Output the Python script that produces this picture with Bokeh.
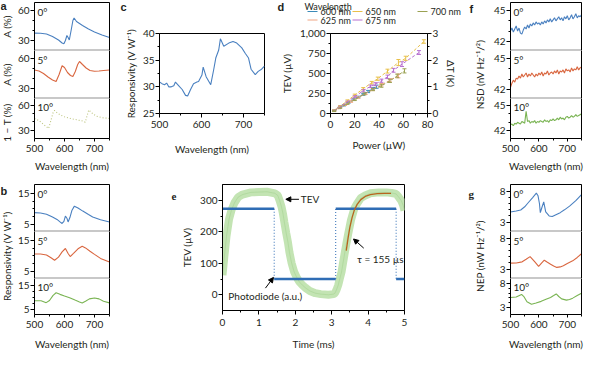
import math
from bokeh.plotting import figure
from bokeh.models import (Range1d, LinearAxis, FixedTicker, Label, Arrow, NormalHead,
                          Whisker, TeeHead, ColumnDataSource, NumeralTickFormatter)
from bokeh.layouts import row, column
from bokeh.embed import file_html
from bokeh.resources import INLINE

FONT = "Lato"
TC = "#231f20"
BLUE = "#4a80c0"
RED = "#d9663f"
GREEN = "#7ab453"
PALE = "#bcc47e"
SEP = "#c8c8c8"

# ---------------- data ----------------
# panel a : absorption (%)
a0_wl = [500, 520, 540, 560, 580, 592, 598, 603, 608, 612, 616, 622, 628, 632, 640, 660, 680, 700, 725, 750]
a0_v = [37.4, 37.2, 36.5, 34, 30.5, 27.5, 26.8, 30, 35, 33, 30.5, 40, 50, 52.5, 49, 45, 41.5, 38.5, 35.5, 33]
a5_wl = [500, 515, 530, 545, 560, 572, 582, 592, 600, 610, 620, 628, 636, 644, 650, 660, 672, 685, 700, 715, 730, 750]
a5_v = [48.5, 47.5, 45, 41.5, 38.5, 37, 44, 52.8, 51, 46, 43, 42, 47, 54, 57, 54, 50.5, 48, 47.2, 47.5, 48, 48.5]
a10_wl = [500, 515, 530, 547, 555, 562, 567, 575, 585, 600, 620, 640, 660, 669, 675, 681, 690, 706, 725, 750]
a10_v = [44, 41.5, 37, 32, 42, 51, 53.7, 51, 48.5, 46, 44, 42.5, 41, 39.5, 47, 54.3, 51, 46.8, 45, 44]

# panel b : responsivity (V/W)
b0_wl = [500, 520, 540, 560, 575, 585, 592, 598, 603, 608, 612, 618, 625, 633, 645, 661, 680, 694, 720, 750]
b0_v = [8.8, 8.7, 8.3, 7.4, 6.6, 5.8, 5.3, 6.0, 7.7, 7.0, 5.8, 7.2, 9.6, 10.9, 10.3, 9.3, 8.2, 7.4, 6.5, 5.75]
b5_wl = [500, 520, 540, 555, 567, 580, 592, 603, 612, 619, 630, 645, 659, 670, 685, 700, 720, 750]
b5_v = [10.6, 10.6, 10.3, 9.4, 8.6, 9.6, 11.3, 12.4, 10.8, 9.8, 10.8, 12.3, 13.1, 12.6, 11.5, 10.5, 9.2, 8.0]
b10_wl = [500, 522, 539, 550, 562, 572, 585, 600, 617, 635, 650, 659, 670, 683, 700, 715, 730, 750]
b10_v = [8.5, 8.5, 7.7, 8.6, 10.8, 11.9, 11.2, 10.5, 9.8, 8.8, 8.0, 7.6, 8.3, 9.3, 9.7, 9.3, 8.3, 7.6]

# panel c : responsivity spectrum
c_wl = [500, 506, 512, 517, 522, 528, 534, 538, 546, 554, 562, 567, 574, 581, 589, 593, 601, 604, 611,
        622, 629, 634, 641, 645, 653, 665, 675, 684, 696, 704, 712, 718, 728, 735, 743, 750]
c_v = [30.9, 30.6, 30.4, 30.7, 30.0, 30.0, 30.2, 30.9, 30.2, 29.5, 28.4, 28.3, 29.5, 30.6, 30.9, 31.0, 32.2,
       33.7, 31.9, 30.4, 33.2, 35.4, 36.9, 39.0, 37.6, 38.2, 38.5, 38.2, 37.3, 36.3, 35.4, 33.3, 32.3, 32.9,
       33.3, 33.9]

# panel d : TEV vs power
d_names = ["600 nm", "625 nm", "650 nm", "675 nm", "700 nm"]
d_colors = ["#3b8ab8", "#f0a584", "#e8c04a", "#b76fcf", "#9aa152"]
d600_P = [3, 7, 11, 15, 19, 23, 27, 31, 35, 38]
d600_V = [38, 70, 102, 138, 172, 206, 240, 275, 310, 335]
d600_E = [6, 6, 8, 8, 10, 10, 12, 14, 16, 20]
d625_P = [3, 7, 12, 17, 23, 29, 35, 42, 49, 56]
d625_V = [34, 66, 108, 150, 200, 250, 300, 360, 415, 470]
d625_E = [6, 6, 8, 10, 10, 12, 14, 16, 20, 24]
d650_P = [3, 8, 14, 20, 27, 34, 39, 47, 56, 62, 77]
d650_V = [40, 92, 160, 230, 310, 385, 435, 530, 637, 690, 900]
d650_E = [6, 8, 10, 12, 14, 16, 20, 24, 38, 26, 22]
d675_P = [3, 8, 14, 20, 27, 33, 37, 42, 47, 52, 59, 73]
d675_V = [35, 84, 146, 210, 285, 340, 367, 410, 458, 540, 617, 762]
d675_E = [6, 8, 10, 12, 14, 16, 18, 20, 22, 24, 30, 24]
d700_P = [3, 8, 14, 20, 28, 35, 42, 49, 55, 61]
d700_V = [30, 72, 122, 172, 245, 300, 346, 408, 470, 533]
d700_E = [6, 8, 8, 10, 12, 14, 18, 20, 22, 26]
legend_title = "Wavelength"

# panel e : time response
e_t = [0.00, 0.05, 0.11, 0.18, 0.25, 0.33, 0.43, 0.55, 0.78, 1.00,
       1.22, 1.44, 1.52, 1.57, 1.62, 1.66, 1.70, 1.75, 1.80, 1.84,
       1.90, 1.97, 2.04, 2.11, 2.20, 2.29, 2.40, 2.55, 2.70, 2.91,
       3.05, 3.09, 3.13, 3.18, 3.22, 3.27, 3.31, 3.36, 3.40, 3.45,
       3.53, 3.62, 3.70, 3.80, 3.92, 4.06, 4.30, 4.50, 4.65, 4.77,
       4.84, 4.91, 4.96, 5.00]
e_tev = [62, 120, 186, 240, 270, 292, 310, 318, 325, 326,
         327, 322, 315, 299, 280, 258, 230, 196, 165, 134,
         100, 72, 55, 41, 30, 21, 12, 5, 2, 0,
         2, 5, 15, 31, 50, 72, 100, 134, 160, 191,
         237, 273, 290, 307, 315, 322, 325, 325, 323, 320,
         310, 299, 285, 268]
pd_edges = [0.0, 1.42, 3.11, 4.77, 5.0]
pd_levels = [273, 50, 273, 50]
fit_t = [3.40, 3.45, 3.50, 3.56, 3.62, 3.70, 3.80, 3.92, 4.06, 4.25, 4.45, 4.63]
fit_v = [140, 180, 215, 245, 268, 287, 302, 312, 318, 321, 322, 322]

# panel f : noise spectral density
f_wl = list(range(500, 755, 5))
f0_v = [43.0, 43.3, 42.9, 43.2, 43.5, 43.0, 43.3, 42.8, 42.7, 43.1,
        43.4, 43.2, 43.6, 43.3, 43.7, 43.5, 43.8, 43.6, 43.9, 43.7,
        43.8, 43.6, 43.9, 43.7, 44.0, 43.8, 44.1, 43.9, 44.2, 43.9,
        44.1, 44.3, 44.0, 44.2, 44.4, 44.1, 44.3, 44.0, 44.4, 44.2,
        44.5, 44.1, 44.3, 44.6, 44.2, 44.4, 44.7, 44.3, 44.5, 44.4, 44.6]
f5_v = [42.2, 42.6, 42.9, 42.7, 43.1, 43.0, 43.3, 43.1, 43.5, 43.2,
        43.4, 43.6, 43.2, 43.5, 43.3, 43.6, 43.4, 43.2, 43.5, 43.3,
        43.6, 43.4, 43.7, 43.3, 43.6, 43.5, 43.8, 43.4, 43.6, 43.7,
        43.5, 43.8, 43.6, 43.9, 43.5, 43.8, 43.7, 43.9, 43.6, 44.0,
        43.8, 43.9, 43.7, 44.1, 43.8, 44.0, 43.9, 44.2, 43.9, 44.1, 44.2]
f10_v = [42.7, 42.8, 42.6, 42.9, 42.8, 43.0, 42.9, 42.8, 43.1, 43.0,
         42.9, 44.3, 43.1, 43.2, 42.9, 43.1, 43.0, 43.2, 42.9, 43.1,
         43.0, 43.2, 43.1, 43.0, 43.3, 43.1, 43.2, 43.0, 43.3, 43.2,
         43.4, 43.2, 43.3, 43.5, 43.3, 43.6, 43.4, 43.5, 43.3, 43.6,
         43.7, 43.5, 43.6, 43.8, 43.6, 43.7, 43.9, 43.7, 43.8, 43.9, 44.0]

# panel g : noise equivalent power
g0_wl = [500, 520, 536, 550, 563, 578, 591, 597, 602, 605, 610, 617, 624, 636, 647, 660, 675, 690, 708, 730, 750]
g0_v = [4.65, 4.8, 4.98, 5.5, 6.2, 7.0, 7.73, 7.3, 6.0, 4.54, 5.3, 6.3, 4.65, 4.0, 3.9, 4.2, 4.54, 5.0, 5.6, 6.5, 7.5]
g5_wl = [500, 520, 541, 555, 569, 585, 599, 610, 619, 630, 641, 652, 663, 675, 686, 700, 719, 735, 750]
g5_v = [3.97, 4.0, 4.18, 4.6, 5.04, 4.2, 3.43, 4.0, 4.45, 4.1, 3.8, 3.5, 3.27, 3.35, 3.54, 3.9, 4.34, 4.9, 5.5]
g10_wl = [500, 520, 539, 548, 558, 574, 590, 608, 625, 641, 652, 661, 670, 680, 697, 708, 719, 735, 750]
g10_v = [5.1, 5.2, 5.74, 5.2, 4.16, 3.63, 3.9, 4.26, 4.7, 5.1, 5.5, 5.84, 5.3, 4.79, 4.53, 4.65, 4.95, 5.5, 6.0]

angles = ["0°", "5°", "10°"]
wl_ticks = [500, 600, 700]
wl_minor = [550, 650, 750]

XR = (500, 750)


# ---------------- helpers ----------------
def style_axis(ax, ticks, minor, standoff=2, tick_out=4, label_standoff=1):
    ax.ticker = FixedTicker(ticks=ticks, minor_ticks=minor)
    ax.major_tick_in = 0
    ax.major_tick_out = tick_out
    ax.minor_tick_in = 0
    ax.minor_tick_out = 2
    ax.axis_line_color = "black"
    ax.major_tick_line_color = "black"
    ax.minor_tick_line_color = "black"
    ax.major_label_text_font = FONT
    ax.major_label_text_font_size = "10px"
    ax.major_label_text_color = TC
    ax.major_label_standoff = label_standoff
    ax.axis_label_text_font = FONT
    ax.axis_label_text_font_size = "10px"
    ax.axis_label_text_font_style = "normal"
    ax.axis_label_text_color = TC
    ax.axis_label_standoff = standoff


def spine(p, side):
    ax = LinearAxis(ticker=FixedTicker(ticks=[]), major_tick_out=0, major_tick_in=0,
                    minor_tick_out=0, minor_tick_in=0, major_label_standoff=0,
                    axis_line_color="black")
    p.add_layout(ax, side)


def base(W, H, xr, yr, l, r, t, b, xaxis=True, yaxis=True):
    p = figure(width=W, height=H, x_range=Range1d(*xr), y_range=Range1d(*yr),
               min_border_left=l, min_border_right=r, min_border_top=t, min_border_bottom=b,
               x_axis_location="below" if xaxis else None,
               y_axis_location="left" if yaxis else None,
               toolbar_location=None, output_backend="svg")
    p.grid.visible = False
    p.outline_line_color = "black"
    p.background_fill_color = "white"
    p.border_fill_color = "white"
    return p


def text(p, x, y, s, size="10px", bold=False, font=FONT, align="left", baseline="alphabetic", angle=0.0):
    p.add_layout(Label(x=x, y=y, text=s, text_font=font, text_font_size=size,
                       text_font_style="bold" if bold else "normal", text_color=TC,
                       text_align=align, text_baseline=baseline, angle=angle))


def letter(p, x, y, s, serif=False):
    text(p, x, y, s, size="11px", bold=True, font="Liberation Serif" if serif else "Liberation Sans")


def stack(series, colors, dashes, yr, yt, ym, fh, top, bottom, left, right, fw, xstand):
    figs = []
    n = len(series)
    for i, ((wx, wy), col, dash) in enumerate(zip(series, colors, dashes)):
        first, last = i == 0, i == n - 1
        t = top if first else 0
        b = bottom if last else 0
        p = base(left + fw + right, t + fh + b, XR, yr, left, right, t, b, xaxis=last)
        p.outline_line_color = SEP
        style_axis(p.yaxis[0], yt, ym)
        spine(p, "right")
        if first:
            spine(p, "above")
        if last:
            style_axis(p.xaxis[0], wl_ticks, wl_minor, standoff=xstand, tick_out=3, label_standoff=3)
            p.xaxis[0].axis_label = "Wavelength (nm)"
        p.line(wx, wy, line_color=col, line_width=1.1, line_dash=dash)
        lx = XR[0] + 3 * (XR[1] - XR[0]) / fw
        ly = yr[1] - 3 * (yr[1] - yr[0]) / fh
        text(p, lx, ly, angles[i], baseline="top")
        figs.append(p)
    return figs


def strip(w, h):
    p = figure(width=w, height=h, x_range=Range1d(0, w), y_range=Range1d(0, h),
               min_border=0, x_axis_location=None, y_axis_location=None,
               toolbar_location=None, output_backend="svg")
    p.grid.visible = False
    p.outline_line_color = None
    p.border_fill_color = "white"
    p.background_fill_color = "white"
    return p


def vlabel(p, x, y, s):
    text(p, x, y, s, align="center", baseline="middle", angle=math.pi / 2)


# ---------------- left column: a, b ----------------
YR_A = (20, 68)
a_figs = stack([(a0_wl, a0_v), (a5_wl, a5_v), (a10_wl, a10_v)], [BLUE, RED, PALE],
               ["solid", "solid", "1 2"], YR_A, [30, 60], [40, 50], 48, 2, 28, 20, 9, 75, 5)
YR_B = (2.7, 17.9)
b_figs = stack([(b0_wl, b0_v), (b5_wl, b5_v), (b10_wl, b10_v)], [BLUE, RED, GREEN],
               ["solid", "solid", "solid"], YR_B, [5, 15], [7.5, 10, 12.5], 47, 10, 27, 20, 9, 75, 7)
sL = strip(14, 352)
letter(sL, 0, 347, "a")
vlabel(sL, 6.5, 326, "A (%)")
vlabel(sL, 6.5, 278, "A (%)")
vlabel(sL, 6.5, 230, "1 − T (%)")
letter(sL, 0, 162, "b")
vlabel(sL, 6.5, 96.5, "Responsivity (V W⁻¹)")
L = row(sL, column(*a_figs, *b_figs))

# ---------------- middle column: c, d, e ----------------
sM = strip(345, 25)
letter(sM, 2, 19, "c")
letter(sM, 159, 19, "d")
text(sM, 186, 25, legend_title, size="9px", baseline="top")
leg_x = [189, 189, 234, 234, 299]
leg_y = [14, 5.5, 14, 5.5, 14]
sM.segment(x0=leg_x, x1=[v + 10 for v in leg_x], y0=leg_y, y1=leg_y, line_color=d_colors, line_width=1.2)
for i in range(len(d_names)):
    text(sM, leg_x[i] + 13, leg_y[i], d_names[i], size="9px", baseline="middle")

pc = base(160, 149, XR, (25, 40), 41, 14, 7, 60)
style_axis(pc.yaxis[0], [25, 30, 35, 40], [27.5, 32.5, 37.5], standoff=3)
style_axis(pc.xaxis[0], wl_ticks, wl_minor, standoff=12, label_standoff=3)
pc.yaxis[0].axis_label = "Responsivity (V W⁻¹)"
pc.xaxis[0].axis_label = "Wavelength (nm)"
pc.line(c_wl, c_v, line_color=BLUE, line_width=1.1)

DXR, DYR = (0, 80), (0, 1000)
pdd = base(185, 149, DXR, DYR, 46, 36, 8, 61)
pdd.extra_y_ranges = {"dT": Range1d(0, 3)}
style_axis(pdd.yaxis[0], [0, 250, 500, 750, 1000], [125, 375, 625, 875], standoff=4)
pdd.yaxis[0].formatter = NumeralTickFormatter(format="0,0")
pdd.yaxis[0].axis_label = "TEV (µV)"
style_axis(pdd.xaxis[0], [0, 20, 40, 60, 80], [10, 30, 50, 70], standoff=8, label_standoff=3)
pdd.xaxis[0].axis_label = "Power (µW)"
rax = LinearAxis(y_range_name="dT")
style_axis(rax, [0, 1, 2, 3], [0.5, 1.5, 2.5], standoff=4)
rax.axis_label = "ΔT (K)"
pdd.add_layout(rax, "right")
d_series = [(d600_P, d600_V, d600_E), (d625_P, d625_V, d625_E), (d650_P, d650_V, d650_E),
            (d675_P, d675_V, d675_E), (d700_P, d700_V, d700_E)]
for (P, V, E), col in zip(d_series, d_colors):
    src = ColumnDataSource(dict(P=P, V=V, lo=[v - e for v, e in zip(V, E)], hi=[v + e for v, e in zip(V, E)]))
    pdd.line("P", "V", source=src, line_color=col, line_width=1, line_dash="3 2")
    pdd.add_layout(Whisker(source=src, base="P", lower="lo", upper="hi", line_color=col, line_width=1,
                           lower_head=TeeHead(size=4, line_color=col, line_width=1),
                           upper_head=TeeHead(size=4, line_color=col, line_width=1)))

EXR, EYR = (0, 5), (-50, 350)
sE = strip(60, 178)
letter(sE, 53, 161, "e", serif=True)
pe = base(285, 178, EXR, EYR, 38, 59, 10, 40)
style_axis(pe.yaxis[0], [0, 100, 200, 300], [50, 150, 250], standoff=4)
style_axis(pe.xaxis[0], [0, 1, 2, 3, 4, 5], [0.5, 1.5, 2.5, 3.5, 4.5], standoff=9, label_standoff=4)
pe.yaxis[0].axis_label = "TEV (µV)"
pe.xaxis[0].axis_label = "Time (ms)"
pe.line(e_t, e_tev, line_color="#c3e4b3", line_width=8)
pe.line(e_t, e_tev, line_color="#a6d493", line_width=1, line_alpha=0.6)
pe.segment(x0=pd_edges[:-1], x1=pd_edges[1:], y0=pd_levels, y1=pd_levels, line_color="#2f6db5", line_width=2.5)
pe.segment(x0=pd_edges[1:-1], x1=pd_edges[1:-1], y0=pd_levels[:-1], y1=pd_levels[1:],
           line_color="#2f6db5", line_width=1, line_dash="1 2")
pe.line(fit_t, fit_v, line_color="#b8641e", line_width=1.3)
pe.add_layout(Arrow(end=NormalHead(size=5, fill_color="black", line_color="black"),
                    x_start=2.10, y_start=303, x_end=1.74, y_end=303, line_width=1))
text(pe, 2.15, 303, "TEV", baseline="middle")
pe.add_layout(Arrow(end=NormalHead(size=5, fill_color="black", line_color="black"),
                    x_start=1.18, y_start=21, x_end=1.40, y_end=55, line_width=1))
text(pe, 0.16, -3, "Photodiode (a.u.)", baseline="middle")
pe.add_layout(Arrow(end=NormalHead(size=5, fill_color="black", line_color="black"),
                    x_start=3.88, y_start=148, x_end=3.60, y_end=177, line_width=1))
text(pe, 3.70, 115, "τ = 155 µs", baseline="middle")

M = column(sM, row(pc, pdd), row(sE, pe))

# ---------------- right column: f, g ----------------
YR_F = (41.1, 45.8)
f_figs = stack([(f_wl, f0_v), (f_wl, f5_v), (f_wl, f10_v)], [BLUE, RED, GREEN],
               ["solid", "solid", "solid"], YR_F, [42, 45], [43, 44], 48, 2, 28, 23, 3, 71, 5)
YR_G = (1.45, 9.15)
g_figs = stack([(g0_wl, g0_v), (g5_wl, g5_v), (g10_wl, g10_v)], [BLUE, RED, GREEN],
               ["solid", "solid", "solid"], YR_G, [3, 8], [4, 5, 6, 7], 47, 10, 27, 23, 3, 71, 7)
sR = strip(24, 352)
letter(sR, 6, 344, "f")
vlabel(sR, 16, 278, "NSD (nV Hz⁻¹/²)")
letter(sR, 5, 159, "g", serif=True)
vlabel(sR, 16, 96.5, "NEP (nW Hz⁻¹/²)")
R = row(sR, column(*f_figs, *g_figs))

root = row(L, M, R)

open("out.html", "w").write(file_html(root, INLINE, title="figure"))
